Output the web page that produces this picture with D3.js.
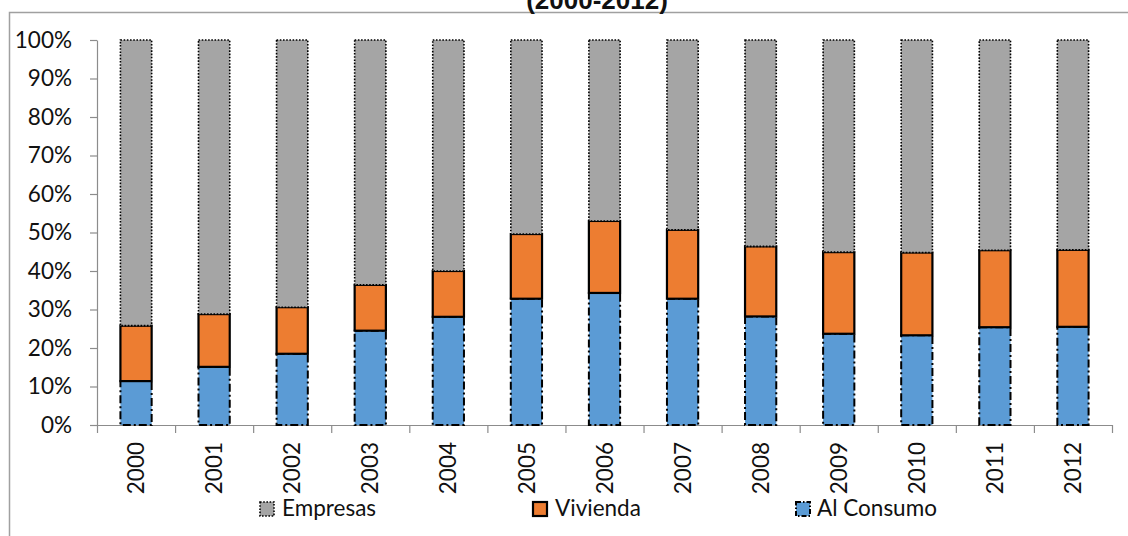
<!DOCTYPE html>
<html>
<head>
<meta charset="utf-8">
<script src="https://cdn.jsdelivr.net/npm/d3@7"></script>
<style>
  html, body { margin: 0; padding: 0; background: #fff; }
  svg { display: block; }
</style>
</head>
<body>
<div id="chart"></div>
<script>
// Composition of credit by type, share of total (%)
const years = ["2000","2001","2002","2003","2004","2005","2006","2007","2008","2009","2010","2011","2012"];
const alConsumo = [11.4, 15.1, 18.5, 24.5, 28.1, 32.8, 34.3, 32.8, 28.2, 23.7, 23.3, 25.4, 25.5];
const vivienda  = [14.4, 13.7, 12.1, 11.9, 11.9, 16.8, 18.7, 17.9, 18.2, 21.2, 21.5, 20.0, 20.0];
const empresas  = [74.2, 71.2, 69.4, 63.6, 60.0, 50.4, 47.0, 49.3, 53.6, 55.1, 55.2, 54.6, 54.5];
const yTicks = [0, 10, 20, 30, 40, 50, 60, 70, 80, 90, 100];
const title = "(2000-2012)";

const W = 1128, H = 536;
const svg = d3.select("#chart").append("svg").attr("width", W).attr("height", H);

// chart frame
svg.append("path")
  .attr("d", `M9.5,${H + 5} V12.5 H${W + 5}`)
  .attr("fill", "none").attr("stroke", "#a0a0a0").attr("stroke-width", 1.5);

// title (partly above the frame)
svg.append("text")
  .attr("x", 597).attr("y", 9)
  .attr("text-anchor", "middle")
  .attr("font-family", "'Liberation Sans', Arial, sans-serif")
  .attr("font-weight", "bold").attr("font-size", 26)
  .attr("fill", "#111")
  .text(title);

const plotL = 97, plotR = 1112, plotT = 40, plotB = 425;

const x = d3.scaleBand().domain(years).range([plotL, plotR]).paddingInner(0.6).paddingOuter(0.3);
const xEdge = d3.scaleLinear().domain([0, years.length]).range([plotL, plotR]);
const y = d3.scaleLinear().domain([0, 100]).range([plotB, plotT]);

const series = [
  { key: "alConsumo", name: "Al Consumo", values: alConsumo, fill: "#5b9bd5", dash: "8,3,2,3", sw: 2 },
  { key: "vivienda",  name: "Vivienda",   values: vivienda,  fill: "#ed7d31", dash: null,      sw: 2.2 },
  { key: "empresas",  name: "Empresas",   values: empresas,  fill: "#a5a5a5", dash: "1.6,1.6", sw: 1.6 }
];

const rows = years.map((yr, i) => {
  const r = { year: yr };
  series.forEach(s => r[s.key] = s.values[i]);
  return r;
});
const stacked = d3.stack().keys(series.map(s => s.key))(rows);

const axisFont = "Lato, 'Open Sans', sans-serif";

// y axis
const yAxis = svg.append("g")
  .attr("transform", `translate(${plotL},0)`)
  .call(d3.axisLeft(y).tickValues(yTicks).tickFormat(d => d + "%").tickSize(7).tickSizeOuter(0).tickPadding(18));
yAxis.select(".domain").attr("stroke", "#8c8c8c").attr("stroke-width", 1.2);
yAxis.selectAll(".tick line").attr("stroke", "#8c8c8c").attr("stroke-width", 1.2);
yAxis.selectAll(".tick text")
  .attr("font-family", axisFont).attr("font-size", 22.5).attr("fill", "#111");

// x axis: ticks between categories
const xAxis = svg.append("g")
  .attr("transform", `translate(0,${plotB})`)
  .call(d3.axisBottom(xEdge).tickValues(d3.range(years.length + 1)).tickFormat("").tickSize(8).tickSizeOuter(0));
xAxis.select(".domain").attr("stroke", "#8c8c8c").attr("stroke-width", 1.2);
xAxis.selectAll(".tick line").attr("stroke", "#8c8c8c").attr("stroke-width", 1.2);

// year labels, rotated
svg.append("g").selectAll("text")
  .data(years).join("text")
  .attr("transform", d => `translate(${x(d) + x.bandwidth() / 2},442) rotate(-90)`)
  .attr("text-anchor", "end")
  .attr("dy", "0.36em")
  .attr("font-family", axisFont).attr("font-size", 22.5).attr("fill", "#111")
  .text(d => d);

// stacked bars
stacked.forEach((layer, li) => {
  const s = series[li];
  svg.append("g").attr("class", s.key).selectAll("rect")
    .data(layer).join("rect")
    .attr("x", d => x(d.data.year))
    .attr("width", x.bandwidth())
    .attr("y", d => y(d[1]))
    .attr("height", d => y(d[0]) - y(d[1]))
    .attr("fill", s.fill)
    .attr("stroke", "#000")
    .attr("stroke-width", s.sw)
    .attr("stroke-dasharray", s.dash);
});

// legend
const legendItems = [
  { s: series[2], x: 260, tx: 282 },
  { s: series[1], x: 533, tx: 555 },
  { s: series[0], x: 796, tx: 817 }
];
const lg = svg.append("g");
legendItems.forEach(it => {
  lg.append("rect")
    .attr("x", it.x).attr("y", 502).attr("width", 14).attr("height", 14)
    .attr("fill", it.s.fill).attr("stroke", "#000")
    .attr("stroke-width", it.s.sw).attr("stroke-dasharray", it.s.key === "alConsumo" ? "5,2,1.5,2" : it.s.dash);
  lg.append("text")
    .attr("x", it.tx).attr("y", 516)
    .attr("font-family", axisFont).attr("font-size", 22.5).attr("fill", "#111")
    .text(it.s.name);
});
</script>
</body>
</html>
